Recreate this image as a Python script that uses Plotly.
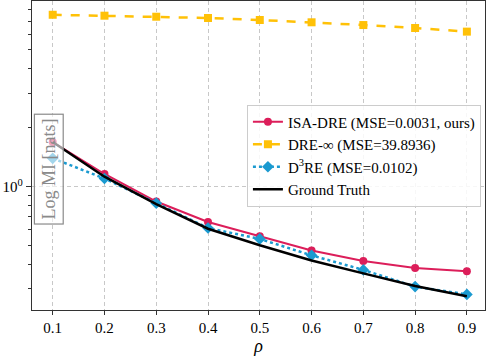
import plotly.graph_objects as go

# ---------------------------------------------------------------------------
# Data
# ---------------------------------------------------------------------------
RHO = [0.1, 0.2, 0.3, 0.4, 0.5, 0.6, 0.7, 0.8, 0.9]
ISA_DRE = [1.69, 1.16, 0.839, 0.659, 0.557, 0.471, 0.417, 0.383, 0.369]
DRE_INF = [7.56, 7.48, 7.39, 7.28, 7.11, 6.92, 6.70, 6.47, 6.20]
D3RE = [1.395, 1.10, 0.823, 0.614, 0.540, 0.445, 0.375, 0.308, 0.281]
GROUND_TRUTH = [1.69, 1.124, 0.814, 0.609, 0.501, 0.419, 0.360, 0.310, 0.275]

X_TICK_LABELS = [f"{r:.1f}" for r in RHO]
Y_MINOR_TICKS = [0.3, 0.4, 0.5, 0.6, 0.7, 0.8, 0.9, 2, 3, 4, 5, 6, 7, 8, 9]

# ---------------------------------------------------------------------------
# Style
# ---------------------------------------------------------------------------
CRIMSON = "#DC1E5A"
GOLD = "#FFC107"
BLUE = "#1B9AD0"
BLACK = "#000000"
GRID = "#C8C8C8"
FRAME = "#333333"
FONT_FAMILY = "'Liberation Serif', 'DejaVu Serif', serif"

fig = go.Figure()

fig.add_trace(go.Scatter(
    x=RHO, y=ISA_DRE, mode="lines+markers",
    name="ISA-DRE (MSE=0.0031, ours)",
    line=dict(color=CRIMSON, width=2),
    marker=dict(symbol="circle", size=8, color=CRIMSON),
))
fig.add_trace(go.Scatter(
    x=RHO, y=DRE_INF, mode="lines+markers",
    name="DRE-∞ (MSE=39.8936)",
    line=dict(color=GOLD, width=2.5, dash="dash"),
    marker=dict(symbol="square", size=8, color=GOLD),
))
fig.add_trace(go.Scatter(
    x=RHO, y=D3RE, mode="lines+markers",
    name="D<sup>3</sup>RE (MSE=0.0102)",
    line=dict(color=BLUE, width=2.5, dash="dot"),
    marker=dict(symbol="diamond", size=9, color=BLUE),
))
fig.add_trace(go.Scatter(
    x=RHO, y=GROUND_TRUTH, mode="lines",
    name="Ground Truth",
    line=dict(color=BLACK, width=2.5),
))

# y-label drawn as a boxed, semi-transparent annotation inside the axes
fig.add_annotation(
    text="Log MI [nats]", textangle=-90,
    xref="paper", yref="paper", x=0.038, y=0.455,
    xanchor="center", yanchor="middle",
    showarrow=False,
    font=dict(family=FONT_FAMILY, size=18, color="#8A8A8A"),
    bgcolor="rgba(255,255,255,0.6)", bordercolor="#8A8A8A",
    borderwidth=1.2, borderpad=4,
)

fig.update_xaxes(
    range=[0.06, 0.935],
    tickvals=RHO, ticktext=X_TICK_LABELS,
    ticks="outside", ticklen=4, tickcolor=FRAME,
    showgrid=True, gridcolor=GRID, griddash="4px,3px", gridwidth=1,
    showline=True, linecolor=FRAME, linewidth=1.3, mirror=True,
    zeroline=False,
    title=dict(text="<i>ρ</i>", font=dict(size=18), standoff=4),
    tickfont=dict(size=15),
)
fig.update_yaxes(
    type="log", range=[-0.631, 0.949],
    tickvals=[1], ticktext=["10<sup>0</sup>"],
    ticks="outside", ticklen=5, tickcolor=FRAME,
    minor=dict(tickvals=Y_MINOR_TICKS, ticks="outside", ticklen=3,
               tickcolor=FRAME, showgrid=False),
    showgrid=True, gridcolor=GRID, griddash="4px,3px", gridwidth=1,
    showline=True, linecolor=FRAME, linewidth=1.3, mirror=True,
    zeroline=False,
    tickfont=dict(size=15),
)

fig.update_layout(
    width=488, height=358,
    margin=dict(l=32, r=3, t=1, b=48),
    font=dict(family=FONT_FAMILY, size=15, color=BLACK),
    plot_bgcolor="white", paper_bgcolor="white",
    showlegend=True,
    legend=dict(
        x=0.991, y=0.665, xanchor="right", yanchor="top",
        bgcolor="rgba(255,255,255,0.85)", bordercolor="#CCCCCC", borderwidth=1,
        font=dict(family=FONT_FAMILY, size=15),
        tracegroupgap=0, itemwidth=30,
    ),
)

# the page's default body margin would shift the figure; drop it
fig.write_html(
    "out.html",
    config={"displayModeBar": False},
    post_script="document.body.style.margin='0';",
)
